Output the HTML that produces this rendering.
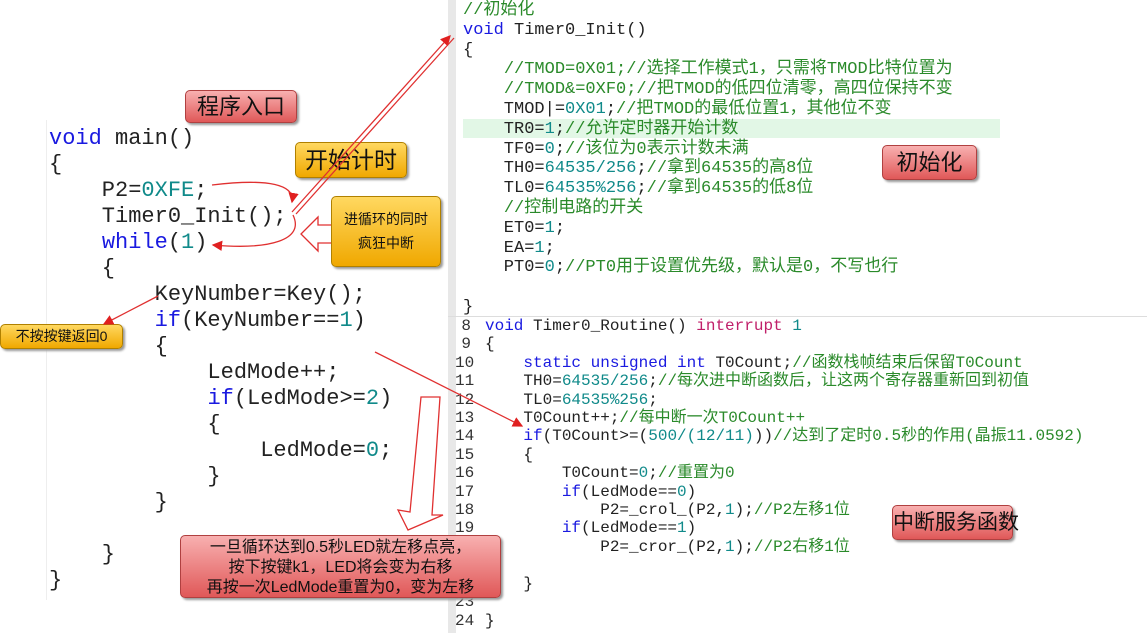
<!DOCTYPE html>
<html><head><meta charset="utf-8"><style>
body{margin:0;width:1147px;height:633px;background:#fff;overflow:hidden;position:relative;font-family:"Liberation Mono","Noto Sans CJK SC",monospace}
.a{position:absolute;white-space:pre}
.L{font-size:22px;color:#222;line-height:26px;font-family:"Liberation Mono","Noto Serif CJK SC",monospace}
.R{font-size:17px;line-height:19.8px;color:#222}
.B{font-size:16px;line-height:18.4px;color:#222}
.k{color:#1a1ae0}.n{color:#108a8a}.c{color:#2a8a2a}.m{color:#c0206a}
.box{position:absolute;border-radius:5px;text-align:center;white-space:nowrap;font-family:"Liberation Sans","Noto Sans CJK SC",sans-serif;color:#111;box-shadow:2px 2px 2px #999}
.red{background:linear-gradient(#f8b0b0,#e05858);border:1px solid #b04040}
.yel{background:linear-gradient(#ffd860,#f0a800);border:1px solid #b08000}
.ln{color:#333}
</style></head><body>
<div class="a" style="left:448px;top:0;width:8px;height:633px;background:#e8e8e8"></div>
<div class="a" style="left:463px;top:119px;width:537px;height:19px;background:#e2f7e6"></div>
<div class="a" style="left:46px;top:120px;width:1px;height:480px;background:#eee"></div>

<div class="a L" style="left:49px;top:126px"><span class="k">void</span> main()
{
    P2=<span class="n">0XFE</span>;
    Timer0_Init();
    <span class="k">while</span>(<span class="n">1</span>)
    {
        KeyNumber=Key();
        <span class="k">if</span>(KeyNumber==<span class="n">1</span>)
        {
            LedMode++;
            <span class="k">if</span>(LedMode&gt;=<span class="n">2</span>)
            {
                LedMode=<span class="n">0</span>;
            }
        }

    }
}</div>

<div class="a R" style="left:463px;top:1px"><span class="c">//初始化</span>
<span class="k">void</span> Timer0_Init()
{
    <span class="c">//TMOD=0X01;//选择工作模式1，只需将TMOD比特位置为</span>
    <span class="c">//TMOD&amp;=0XF0;//把TMOD的低四位清零，高四位保持不变</span>
    TMOD|=<span class="n">0X01</span>;<span class="c">//把TMOD的最低位置1，其他位不变</span>
    TR0=<span class="n">1</span>;<span class="c">//允许定时器开始计数</span>
    TF0=<span class="n">0</span>;<span class="c">//该位为0表示计数未满</span>
    TH0=<span class="n">64535/256</span>;<span class="c">//拿到64535的高8位</span>
    TL0=<span class="n">64535%256</span>;<span class="c">//拿到64535的低8位</span>
    <span class="c">//控制电路的开关</span>
    ET0=<span class="n">1</span>;
    EA=<span class="n">1</span>;
    PT0=<span class="n">0</span>;<span class="c">//PT0用于设置优先级，默认是0，不写也行</span>

}</div>
<div class="a" style="left:448px;top:316px;width:699px;height:1px;background:#ddd"></div>

<div class="a B ln" style="left:455px;top:317px;text-align:right;width:16px">8
9
10
11
12
13
14
15
16
17
18
19
20
21
22
23
24</div>
<div class="a B" style="left:485px;top:317px"><span class="k">void</span> Timer0_Routine() <span class="m">interrupt</span> <span class="n">1</span>
{
    <span class="k">static unsigned int</span> T0Count;<span class="c">//函数栈帧结束后保留T0Count</span>
    TH0=<span class="n">64535/256</span>;<span class="c">//每次进中断函数后，让这两个寄存器重新回到初值</span>
    TL0=<span class="n">64535%256</span>;
    T0Count++;<span class="c">//每中断一次T0Count++</span>
    <span class="k">if</span>(T0Count&gt;=(<span class="n">500/(12/11)</span>))<span class="c">//达到了定时0.5秒的作用(晶振11.0592)</span>
    {
        T0Count=<span class="n">0</span>;<span class="c">//重置为0</span>
        <span class="k">if</span>(LedMode==<span class="n">0</span>)
            P2=_crol_(P2,<span class="n">1</span>);<span class="c">//P2左移1位</span>
        <span class="k">if</span>(LedMode==<span class="n">1</span>)
            P2=_cror_(P2,<span class="n">1</span>);<span class="c">//P2右移1位</span>

    }

}</div>

<div class="box red" style="left:185px;top:90px;width:110px;height:31px;font-size:22px;line-height:31px">程序入口</div>
<div class="box yel" style="left:295px;top:142px;width:110px;height:34px;font-size:23px;line-height:34px">开始计时</div>
<div class="box yel" style="left:331px;top:196px;width:110px;height:71px;font-size:14px;line-height:24px;padding-top:10px;box-sizing:border-box">进循环的同时<br>疯狂中断</div>
<div class="box yel" style="left:0;top:324px;width:121px;height:23px;font-size:14px;line-height:23px">不按按键返回0</div>
<div class="box red" style="left:882px;top:145px;width:93px;height:33px;font-size:22px;line-height:33px">初始化</div>
<div class="box red" style="left:892px;top:505px;width:119px;height:33px;font-size:21px;line-height:33px">中断服务函数</div>
<div class="box red" style="left:180px;top:535px;width:321px;height:63px;font-size:16px;line-height:20px;padding-top:2px;box-sizing:border-box">一旦循环达到0.5秒LED就左移点亮，<br>按下按键k1，LED将会变为右移<br>再按一次LedMode重置为0，变为左移</div>

<svg class="a" style="left:0;top:0" width="1147" height="633">
<defs><marker id="ar" markerWidth="8" markerHeight="8" refX="7" refY="4" orient="auto"><path d="M0,0L8,4L0,8z" fill="#e02020"/></marker></defs>
<g stroke="#e03030" stroke-width="1.3" fill="none">
<line x1="292" y1="212" x2="450" y2="36" marker-end="url(#ar)"/>
<line x1="296" y1="214" x2="454" y2="38"/>
<line x1="375" y1="352" x2="522" y2="426" marker-end="url(#ar)"/>
<line x1="158" y1="296" x2="104" y2="324" marker-end="url(#ar)"/>
<path d="M212,185 C270,178 295,185 292,202" marker-end="url(#ar)"/>
<path d="M293,215 C305,240 270,250 213,245" marker-end="url(#ar)"/>
<path d="M331,225 L318,225 L318,217 L301,234 L318,251 L318,243 L331,243" fill="#fff"/>
<path d="M428,397 L440,397 L432,515 L443,515 L408,530 L398,510 L410,512 L421,397z" fill="#fff"/>
</g>
</svg>
</body></html>
